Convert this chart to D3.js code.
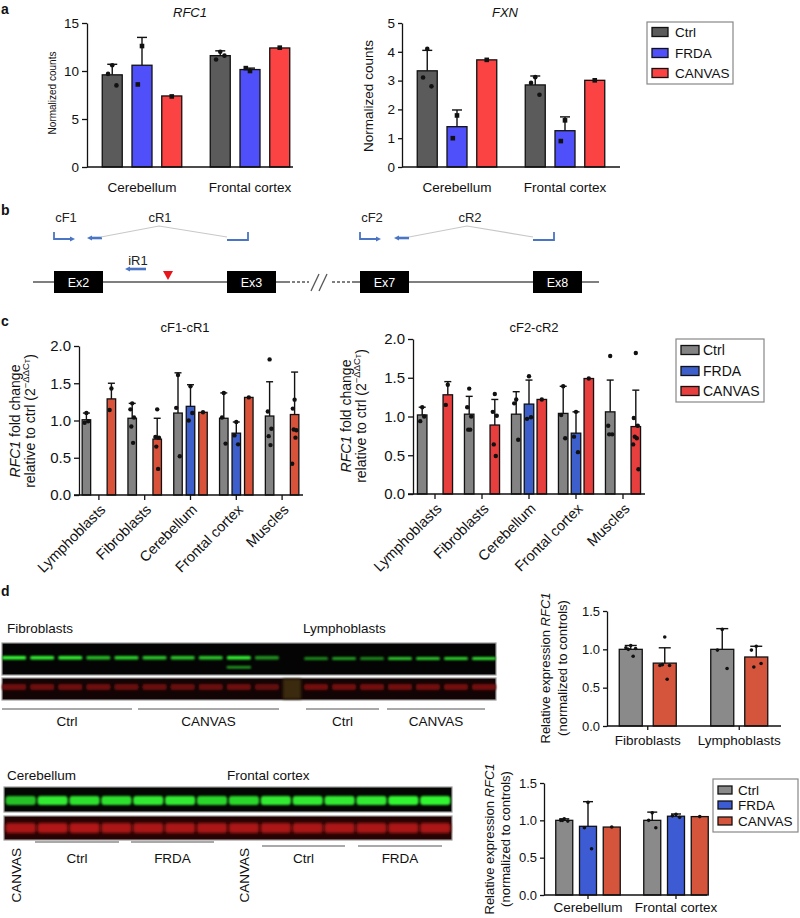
<!DOCTYPE html>
<html><head><meta charset="utf-8">
<script src="https://cdn.jsdelivr.net/npm/d3@7"></script>
<style>body{margin:0;background:#fff} svg{display:block} text{font-family:"Liberation Sans",Arial,sans-serif;fill:#111}</style>
</head><body><svg id="fig" width="800" height="918"></svg>
<script>
// ---------------- DATA ----------------
const seriesA = ["Ctrl", "FRDA", "CANVAS"];
const groupsA = ["Cerebellum", "Frontal cortex"];
const rfc1Mean = [[9.6, 10.6, 7.4], [11.6, 10.15, 12.4]];
const rfc1Sd   = [[1.1, 2.9, 0], [0.5, 0.15, 0]];
const rfc1Dots = [[[10.6, 9.7, 8.5], [12.6, 8.6], [7.35]], [[12.0, 11.2, 11.6], [10.0, 10.3], [12.43]]];
const fxnMean = [[3.34, 1.40, 3.72], [2.85, 1.26, 3.01]];
const fxnSd   = [[0.71, 0.58, 0], [0.31, 0.48, 0]];
const fxnDots = [[[4.1, 3.11, 2.8], [1.79, 1.0], [3.72]], [[3.12, 2.92, 2.51], [1.62, 0.9], [3.01]]];
const countTicksA1 = [0, 5, 10, 15];
const countTicksA2 = [0, 1, 2, 3, 4, 5];

const groupsC = ["Lymphoblasts", "Fibroblasts", "Cerebellum", "Frontal cortex", "Muscles"];
const c1Mean = [[1.01, null, 1.29], [1.03, null, 0.75], [1.10, 1.19, 1.11], [1.03, 0.83, 1.31], [1.06, null, 1.08]];
const c1Sd   = [[0.09, 0, 0.21], [0.20, 0, 0.28], [0.54, 0.29, 0], [0.34, 0.15, 0], [0.46, 0, 0.57]];
const c1Dots = [
  [[1.10, 0.97, 0.99], [], [1.43, 1.14]],
  [[1.23, 1.15, 1.04, 0.92, 0.70], [], [1.15, 0.78, 0.77, 0.65, 0.35]],
  [[1.61, 1.17, 0.52], [1.46, 1.00, 1.10], [1.11]],
  [[1.37, 1.04, 0.69], [0.98, 0.80, 0.68], [1.31]],
  [[1.82, 1.12, 0.89, 0.79, 0.67], [], [1.28, 1.16, 0.87, 0.88, 0.77, 0.42]]
];
const c2Mean = [[1.02, null, 1.28], [1.03, null, 0.89], [1.03, 1.16, 1.22], [1.04, 0.785, 1.49], [1.06, null, 0.87]];
const c2Sd   = [[0.10, 0, 0.17], [0.23, 0, 0.33], [0.29, 0.31, 0], [0.35, 0.275, 0], [0.41, 0, 0.47]];
const c2Dots = [
  [[1.12, 0.94, 1.0], [], [1.41, 1.15]],
  [[1.36, 1.12, 1.0, 0.83, 0.83], [], [1.29, 1.06, 1.01, 0.64, 0.49]],
  [[1.22, 1.17, 0.70], [1.52, 0.97, 0.99], [1.22]],
  [[1.39, 1.02, 0.72], [1.06, 0.74, 0.54], [1.49]],
  [[1.78, 0.88, 0.77, 0.77], [], [1.82, 0.98, 0.88, 0.74, 0.72, 0.64, 0.32]]
];
const foldTicks = [0, 0.5, 1.0, 1.5, 2.0];

const seriesD1 = ["Ctrl", "CANVAS"];
const groupsD1 = ["Fibroblasts", "Lymphoblasts"];
const d1Mean = [[1.0, 0.82], [1.0, 0.90]];
const d1Sd   = [[0.05, 0.20], [0.27, 0.14]];
const d1Dots = [[[1.05, 1.02, 1.01, 1.0, 0.91], [1.16, 0.79, 0.79, 0.80, 0.61]], [[1.26, 0.99, 0.75], [1.04, 0.99, 0.815, 0.77]]];
const d2Mean = [[1.0, 0.92, 0.91], [1.0, 1.055, 1.05]];
const d2Sd   = [[0.02, 0.33, 0], [0.11, 0.03, 0]];
const d2Dots = [[[1.02, 1.0, 0.99, 1.0], [1.24, 0.90, 0.62], [0.91]], [[1.10, 1.0, 0.90], [1.08, 1.06, 1.04], [1.05]]];
const relTicks = [0, 0.5, 1.0, 1.5];

// blot lane intensities
const fibroGreen = [1.0, 0.95, 0.95, 0.7, 0.8, 0.75, 0.75, 0.75, 0.95, 0.5];
const lymphoGreen = [0.45, 0.55, 0.45, 0.75, 0.75, 0.8, 0.85];
const fibroRed = [0.75, 0.75, 0.75, 0.75, 0.7, 0.7, 0.7, 0.7, 0.75, 0.65];
const lymphoRed = [0.8, 0.8, 0.8, 0.8, 0.8, 0.8, 0.8];
const tissueLanes = ["CANVAS", "Ctrl", "Ctrl", "Ctrl", "FRDA", "FRDA", "FRDA", "CANVAS", "Ctrl", "Ctrl", "Ctrl", "FRDA", "FRDA", "FRDA"];
const tissueGreen = [0.7, 0.9, 0.85, 0.85, 0.9, 0.9, 0.8, 0.8, 0.9, 0.9, 0.9, 0.9, 0.95, 0.95];
const tissueRed = [0.85, 0.9, 0.9, 0.85, 0.85, 0.85, 0.85, 0.85, 0.85, 0.85, 0.85, 0.85, 0.85, 0.85];

// gene diagram
const exons = ["Ex2", "Ex3", "Ex7", "Ex8"];
const primerLabels = ["cF1", "cR1", "cF2", "cR2", "iR1"];

// ---------------- DRAW ----------------
const svg = d3.select("#fig");
svg.append("rect").attr("width", 800).attr("height", 918).attr("fill", "#fff");
const defs = svg.append("defs");
defs.append("filter").attr("id", "blur").attr("x", "-20%").attr("y", "-50%").attr("width", "140%").attr("height", "200%")
  .append("feGaussianBlur").attr("stdDeviation", 0.9);
defs.append("filter").attr("id", "blur2").attr("x", "-20%").attr("y", "-50%").attr("width", "140%").attr("height", "200%")
  .append("feGaussianBlur").attr("stdDeviation", 1.8);

const colA = { Ctrl: "#5b5b5b", FRDA: "#5050fa", CANVAS: "#fc4343" };
const colC1 = { Ctrl: "#838383", FRDA: "#3d5fcc", CANVAS: "#d9533a" };
const colC2 = { Ctrl: "#838383", FRDA: "#3d5fcc", CANVAS: "#e73e3e" };
const colD = { Ctrl: "#8a8a8a", FRDA: "#3d5bd2", CANVAS: "#d4553c" };

function panelLabel(t, x, y) {
  svg.append("text").attr("x", x).attr("y", y).text(t).style("font-size", "14px").style("font-weight", "bold")
    .style("font-family", "'Liberation Sans Narrow','Liberation Sans',Arial");
}

function chart(cfg) {
  const g = svg.append("g");
  const x = d3.scaleBand().domain(cfg.groups).range(cfg.xRange);
  const y = d3.scaleLinear().domain(cfg.yDomain).range(cfg.yRange);
  const sub = d3.scalePoint().domain(cfg.series).range(cfg.subRange);
  const cx = (gi, si) => x(cfg.groups[gi]) + x.bandwidth() / 2 + sub(cfg.series[si]);
  const offs = [0, -0.6, 0.6, -0.3, 0.3, -0.8, 0.8];
  cfg.groups.forEach((grp, gi) => cfg.series.forEach((s, si) => {
    const m = cfg.means[gi][si]; if (m == null) return;
    const c = cx(gi, si);
    g.append("rect").attr("x", c - cfg.barW / 2).attr("y", y(m)).attr("width", cfg.barW)
      .attr("height", y(0) - y(m)).attr("fill", cfg.colors[s]).attr("stroke", "#111").attr("stroke-width", 1.3);
  }));
  cfg.groups.forEach((grp, gi) => cfg.series.forEach((s, si) => {
    const m = cfg.means[gi][si]; const sd = cfg.sds[gi][si];
    if (m == null || !sd) return;
    const c = cx(gi, si);
    g.append("line").attr("x1", c).attr("x2", c).attr("y1", y(m)).attr("y2", y(m + sd)).attr("stroke", "#111").attr("stroke-width", 1.4);
    g.append("line").attr("x1", c - cfg.capW / 2).attr("x2", c + cfg.capW / 2).attr("y1", y(m + sd)).attr("y2", y(m + sd)).attr("stroke", "#111").attr("stroke-width", 1.4);
  }));
  cfg.groups.forEach((grp, gi) => cfg.series.forEach((s, si) => {
    const pts = cfg.dots[gi][si]; if (!pts) return;
    const c = cx(gi, si);
    pts.forEach((v, i) => {
      const px = c + offs[i % offs.length] * cfg.barW * 0.35;
      if (cfg.square && cfg.square(s)) {
        g.append("rect").attr("x", px - cfg.dotR).attr("y", y(v) - cfg.dotR).attr("width", cfg.dotR * 2).attr("height", cfg.dotR * 2).attr("fill", "#111");
      } else {
        g.append("circle").attr("cx", px).attr("cy", y(v)).attr("r", cfg.dotR).attr("fill", "#111");
      }
    });
  }));
  const ya = g.append("g").attr("transform", `translate(${cfg.yAxisX},0)`)
    .call(d3.axisLeft(y).tickValues(cfg.yTicks).tickFormat(cfg.fmt).tickSize(cfg.tickLen).tickSizeOuter(0).tickPadding(cfg.tickPad));
  ya.selectAll("text").style("font-size", cfg.tickFont + "px").attr("fill", "#111");
  ya.selectAll("line,path").attr("stroke", "#111").attr("stroke-width", 1.3);
  g.append("line").attr("x1", cfg.xAxis[0]).attr("x2", cfg.xAxis[1]).attr("y1", y(0)).attr("y2", y(0)).attr("stroke", "#111").attr("stroke-width", 1.3);
  cfg.groups.forEach((grp) => {
    const c = x(grp) + x.bandwidth() / 2;
    if (cfg.xTicks) g.append("line").attr("x1", c).attr("x2", c).attr("y1", y(0)).attr("y2", y(0) + cfg.tickLen).attr("stroke", "#111").attr("stroke-width", 1.3);
    if (cfg.rotate) {
      g.append("text").attr("transform", `translate(${c + 4},${y(0) + 12}) rotate(-45)`).attr("text-anchor", "end")
        .attr("dominant-baseline", "central").style("font-size", cfg.labelFont + "px").text(grp);
    } else {
      g.append("text").attr("x", c).attr("y", y(0) + cfg.labelDy).attr("text-anchor", "middle").attr("dominant-baseline", "central")
        .style("font-size", cfg.labelFont + "px").text(grp);
    }
  });
  return { x, y, g };
}

function vlabel(x, y, size, parts) {
  const t = svg.append("text").attr("transform", `translate(${x},${y}) rotate(-90)`).attr("text-anchor", "middle")
    .attr("dominant-baseline", "central").style("font-size", size + "px");
  parts.forEach(p => {
    const ts = t.append("tspan").text(p.t);
    if (p.i) ts.style("font-style", "italic");
    if (p.s) ts.style("font-size", p.s + "px");
    if (p.dy) ts.attr("dy", p.dy);
  });
  return t;
}

function legend(x, y, w, h, rows, rowY, sw, swH, txtX, size, colors) {
  svg.append("rect").attr("x", x).attr("y", y).attr("width", w).attr("height", h).attr("fill", "#fff").attr("stroke", "#888").attr("stroke-width", 1.2);
  rows.forEach((r, i) => {
    svg.append("rect").attr("x", x + 5).attr("y", rowY[i] - swH / 2).attr("width", sw).attr("height", swH)
      .attr("fill", colors[r]).attr("stroke", "#111").attr("stroke-width", 1.3);
    svg.append("text").attr("x", txtX).attr("y", rowY[i]).attr("dominant-baseline", "central").style("font-size", size + "px").text(r);
  });
}

// ---------- Panel a ----------
panelLabel("a", 1, 14);
svg.append("text").attr("x", 190).attr("y", 12).attr("text-anchor", "middle").attr("dominant-baseline", "central")
  .style("font-size", "13px").style("font-style", "italic").text("RFC1");
svg.append("text").attr("x", 505).attr("y", 12).attr("text-anchor", "middle").attr("dominant-baseline", "central")
  .style("font-size", "13px").style("font-style", "italic").text("FXN");
chart({ groups: groupsA, series: seriesA, means: rfc1Mean, sds: rfc1Sd, dots: rfc1Dots, colors: colA,
  xRange: [88, 304], subRange: [-29.75, 29.75], barW: 20, yDomain: [0, 15], yRange: [167, 23], yAxisX: 87,
  xAxis: [87, 293], yTicks: countTicksA1, fmt: d3.format("d"), tickLen: 5, tickPad: 3, tickFont: 13.5,
  labelDy: 20, labelFont: 13.5, capW: 10, dotR: 2.3, square: s => s !== "Ctrl" });
vlabel(52, 93, 10, [{ t: "Normalized counts" }]);
chart({ groups: groupsA, series: seriesA, means: fxnMean, sds: fxnSd, dots: fxnDots, colors: colA,
  xRange: [403, 619], subRange: [-29.75, 29.75], barW: 20, yDomain: [0, 5], yRange: [167, 23], yAxisX: 402,
  xAxis: [402, 620], yTicks: countTicksA2, fmt: d3.format("d"), tickLen: 4, tickPad: 3, tickFont: 13.5,
  labelDy: 20, labelFont: 13.5, capW: 10, dotR: 2.3, square: s => s !== "Ctrl" });
vlabel(368, 96, 13.5, [{ t: "Normalized counts" }]);
legend(647, 22, 86, 62, seriesA, [32, 53, 73], 16, 9, 675, 13.5, colA);

// ---------- Panel b ----------
panelLabel("b", 1, 215);
const gb = svg.append("g");
const bx = d3.scaleLinear().domain([0, 600]).range([0, 600]);
const blue = "#4a74c4";
gb.append("line").attr("x1", bx(33)).attr("x2", bx(287)).attr("y1", 282).attr("y2", 282).attr("stroke", "#555").attr("stroke-width", 1.5);
gb.append("line").attr("x1", bx(287)).attr("x2", bx(309)).attr("y1", 282).attr("y2", 282).attr("stroke", "#555").attr("stroke-width", 1.5).attr("stroke-dasharray", "3,2");
gb.append("line").attr("x1", bx(332)).attr("x2", bx(354)).attr("y1", 282).attr("y2", 282).attr("stroke", "#555").attr("stroke-width", 1.5).attr("stroke-dasharray", "3,2");
gb.append("line").attr("x1", bx(354)).attr("x2", bx(599)).attr("y1", 282).attr("y2", 282).attr("stroke", "#555").attr("stroke-width", 1.5);
[[311, 319], [319, 327]].forEach(([a, b]) => gb.append("line").attr("x1", bx(a)).attr("y1", 291).attr("x2", bx(b)).attr("y2", 274).attr("stroke", "#555").attr("stroke-width", 1.3));
const exStart = { Ex2: 54, Ex3: 227, Ex7: 360, Ex8: 533 };
exons.forEach(e => {
  gb.append("rect").attr("x", bx(exStart[e])).attr("y", 271).attr("width", 49).attr("height", 22).attr("fill", "#000");
  gb.append("text").attr("x", bx(exStart[e]) + 24.5).attr("y", 282.5).attr("text-anchor", "middle").attr("dominant-baseline", "central")
    .style("font-size", "12.5px").style("fill", "#fff").style("font-family", "'Liberation Sans Narrow','Liberation Sans',Arial").text(e);
});
gb.append("path").attr("d", `M${bx(163)},271 L${bx(173)},271 L${bx(168)},280 Z`).attr("fill", "#e8141a");
function arrowHead(x, y, dir) {
  gb.append("path").attr("d", `M${x},${y} L${x - 5 * dir},${y - 2.5} L${x - 5 * dir},${y + 2.5} Z`).attr("fill", blue);
}
function fwd(x0) {
  gb.append("path").attr("d", `M${bx(x0)},232 V239 H${bx(x0) + 16}`).attr("fill", "none").attr("stroke", blue).attr("stroke-width", 1.8);
  arrowHead(bx(x0) + 21, 239, 1);
}
function rev(x0, y, len) {
  gb.append("line").attr("x1", bx(x0) + 4).attr("x2", bx(x0) + len).attr("y1", y).attr("y2", y).attr("stroke", blue).attr("stroke-width", 2.6);
  arrowHead(bx(x0), y, -1);
}
function rbr(x0) {
  gb.append("path").attr("d", `M${bx(x0)},240 H${bx(x0) + 21} V232`).attr("fill", "none").attr("stroke", blue).attr("stroke-width", 1.8);
}
fwd(54); rev(87, 238, 15); rbr(227);
fwd(360); rev(394, 238, 15); rbr(533);
rev(125, 269, 21);
gb.append("path").attr("d", `M${bx(101)},237 L${bx(159)},226 L${bx(227)},237`).attr("fill", "none").attr("stroke", "#c8c8c8").attr("stroke-width", 1.1);
gb.append("path").attr("d", `M${bx(409)},237 L${bx(467)},226 L${bx(533)},237`).attr("fill", "none").attr("stroke", "#c8c8c8").attr("stroke-width", 1.1);
const plPos = { cF1: [66, 217], cR1: [160, 217], cF2: [372, 217], cR2: [470, 217], iR1: [138, 260] };
primerLabels.forEach(p => gb.append("text").attr("x", bx(plPos[p][0])).attr("y", plPos[p][1]).attr("text-anchor", "middle")
  .attr("dominant-baseline", "central").style("font-size", "13px").style("font-family", "'Liberation Sans Narrow','Liberation Sans',Arial").style("fill", "#222").text(p));

// ---------- Panel c ----------
panelLabel("c", 1, 326);
svg.append("text").attr("x", 185).attr("y", 327).attr("text-anchor", "middle").attr("dominant-baseline", "central").style("font-size", "13px").text("cF1-cR1");
svg.append("text").attr("x", 534).attr("y", 327).attr("text-anchor", "middle").attr("dominant-baseline", "central").style("font-size", "13px").text("cF2-cR2");
chart({ groups: groupsC, series: seriesA, means: c1Mean, sds: c1Sd, dots: c1Dots, colors: colC1,
  xRange: [76, 305], subRange: [-12.5, 12.5], barW: 8.5, yDomain: [0, 2], yRange: [495, 346], yAxisX: 79,
  xAxis: [74, 303], yTicks: foldTicks, fmt: d3.format(".1f"), tickLen: 5, tickPad: 3, tickFont: 15,
  rotate: true, labelFont: 14.5, xTicks: true, capW: 7, dotR: 2.2 });
chart({ groups: groupsC, series: seriesA, means: c2Mean, sds: c2Sd, dots: c2Dots, colors: colC2,
  xRange: [411.5, 646.5], subRange: [-12.8, 12.8], barW: 9.5, yDomain: [0, 2], yRange: [494, 339], yAxisX: 413,
  xAxis: [408, 645], yTicks: foldTicks, fmt: d3.format(".1f"), tickLen: 5, tickPad: 3, tickFont: 15,
  rotate: true, labelFont: 14.5, xTicks: true, capW: 7, dotR: 2.2 });
const ddct = [{ t: "relative to ctrl (2" }, { t: "\u2212\u0394\u0394C", s: 9.5, dy: -5 }, { t: "T", s: 7, dy: 2 }, { t: ")", s: 14, dy: 3 }];
vlabel(15, 421, 14, [{ t: "RFC1", i: true }, { t: " fold change" }]);
vlabel(30, 421, 14, ddct);
vlabel(346, 416, 14, [{ t: "RFC1", i: true }, { t: " fold change" }]);
vlabel(361, 416, 14, ddct);
legend(676, 339, 88, 63, seriesA, [350, 371, 391], 18, 9, 703, 14, colC2);

// ---------- Panel d ----------
panelLabel("d", 1, 596);
function textAt(x, y, t, size, anchor) {
  svg.append("text").attr("x", x).attr("y", y).attr("text-anchor", anchor || "start").attr("dominant-baseline", "central").style("font-size", size + "px").text(t);
}
textAt(7, 628, "Fibroblasts", 13.5);
textAt(303, 628, "Lymphoblasts", 13.5);
const gd = svg.append("g");
gd.append("rect").attr("x", 2).attr("y", 643).attr("width", 494).attr("height", 32).attr("fill", "#040404").attr("stroke", "#9a9a9a").attr("stroke-width", 1.2);
gd.append("rect").attr("x", 2).attr("y", 678).attr("width", 494).attr("height", 22).attr("fill", "#120404").attr("stroke", "#9a9a9a").attr("stroke-width", 1.2);
gd.append("rect").attr("x", 283).attr("y", 679).attr("width", 18).attr("height", 20).attr("fill", "#3a2a10").attr("filter", "url(#blur2)");
const laneF = d3.scaleBand().domain(d3.range(fibroGreen.length)).range([2, 279]).paddingInner(0.14);
const laneL = d3.scaleBand().domain(d3.range(lymphoGreen.length)).range([304, 496]).paddingInner(0.14);
const gcol = d3.interpolateRgb("#0a300a", "#35ff35");
const rcol = d3.interpolateRgb("#1a0505", "#8c1414");
fibroGreen.forEach((v, i) => gd.append("rect").attr("x", laneF(i)).attr("y", 656).attr("width", laneF.bandwidth()).attr("height", 3.5).attr("rx", 1.5).attr("fill", gcol(v)).attr("filter", "url(#blur)"));
gd.append("rect").attr("x", laneF(8)).attr("y", 666).attr("width", laneF.bandwidth()).attr("height", 2.5).attr("fill", gcol(0.55)).attr("filter", "url(#blur)");
lymphoGreen.forEach((v, i) => gd.append("rect").attr("x", laneL(i)).attr("y", 657).attr("width", laneL.bandwidth()).attr("height", 3).attr("rx", 1.5).attr("fill", gcol(v)).attr("filter", "url(#blur)"));
fibroRed.forEach((v, i) => gd.append("rect").attr("x", laneF(i)).attr("y", 684).attr("width", laneF.bandwidth()).attr("height", 6).attr("rx", 2).attr("fill", rcol(v)).attr("filter", "url(#blur)"));
lymphoRed.forEach((v, i) => gd.append("rect").attr("x", laneL(i)).attr("y", 684).attr("width", laneL.bandwidth()).attr("height", 6).attr("rx", 2).attr("fill", rcol(v)).attr("filter", "url(#blur)"));
[[2, 132, "Ctrl"], [138, 279, "CANVAS"], [306, 379, "Ctrl"], [387, 485, "CANVAS"]].forEach(([a, b, t]) => {
  gd.append("line").attr("x1", a).attr("x2", b).attr("y1", 709).attr("y2", 709).attr("stroke", "#555").attr("stroke-width", 1.2);
  textAt((a + b) / 2, 721, t, 13.5, "middle");
});
chart({ groups: groupsD1, series: seriesD1, means: d1Mean, sds: d1Sd, dots: d1Dots, colors: colD,
  xRange: [602, 785], subRange: [-17, 17], barW: 23, yDomain: [0, 1.5], yRange: [726, 611], yAxisX: 607,
  xAxis: [607, 781], yTicks: relTicks, fmt: d3.format(".1f"), tickLen: 4, tickPad: 3, tickFont: 13,
  labelDy: 14, labelFont: 13.5, xTicks: true, capW: 12, dotR: 1.8 });
vlabel(545, 668, 13, [{ t: "Relative expression " }, { t: "RFC1", i: true }]);
vlabel(562, 668, 13, [{ t: "(normalized to controls)" }]);

textAt(7, 775, "Cerebellum", 13.5);
textAt(227, 775, "Frontal cortex", 13.5);
gd.append("rect").attr("x", 4).attr("y", 787).attr("width", 448).attr("height", 25).attr("fill", "#030603").attr("stroke", "#9a9a9a").attr("stroke-width", 1.2);
gd.append("rect").attr("x", 4).attr("y", 816).attr("width", 448).attr("height", 24).attr("fill", "#260303").attr("stroke", "#9a9a9a").attr("stroke-width", 1.2);
const laneT = d3.scaleBand().domain(d3.range(tissueLanes.length)).range([4, 452]).paddingInner(0.05).paddingOuter(0.05);
tissueGreen.forEach((v, i) => gd.append("rect").attr("x", laneT(i)).attr("y", 796).attr("width", laneT.bandwidth()).attr("height", 9).attr("rx", 3).attr("fill", gcol(v)).attr("filter", "url(#blur)"));
tissueRed.forEach((v, i) => gd.append("rect").attr("x", laneT(i)).attr("y", 823).attr("width", laneT.bandwidth()).attr("height", 10).attr("rx", 3).attr("fill", d3.interpolateRgb("#3a0505", "#c01414")(v)).attr("filter", "url(#blur2)"));
[[35, 119, 842, "Ctrl"], [131, 214, 842, "FRDA"], [262, 345, 846, "Ctrl"], [358, 442, 846, "FRDA"]].forEach(([a, b, yy, t]) => {
  gd.append("line").attr("x1", a).attr("x2", b).attr("y1", yy).attr("y2", yy).attr("stroke", "#555").attr("stroke-width", 1.2);
  textAt((a + b) / 2, 858, t, 13.5, "middle");
});
[16, 244].forEach(xx => svg.append("text").attr("transform", `translate(${xx},848) rotate(-90)`).attr("text-anchor", "end")
  .attr("dominant-baseline", "central").style("font-size", "13.5px").text("CANVAS"));
chart({ groups: groupsA, series: seriesA, means: d2Mean, sds: d2Sd, dots: d2Dots, colors: colD,
  xRange: [544, 720], subRange: [-23.75, 23.75], barW: 17, yDomain: [0, 1.5], yRange: [895, 783], yAxisX: 544,
  xAxis: [544, 707], yTicks: relTicks, fmt: d3.format(".1f"), tickLen: 4, tickPad: 3, tickFont: 13,
  labelDy: 12, labelFont: 13.5, xTicks: true, capW: 10, dotR: 1.8 });
vlabel(489, 839, 13, [{ t: "Relative expression " }, { t: "RFC1", i: true }]);
vlabel(505, 839, 13, [{ t: "(normalized to controls)" }]);
legend(713, 779, 85, 53, seriesA, [790, 805, 821], 14, 8, 738, 13.5, colD);
</script></body></html>
